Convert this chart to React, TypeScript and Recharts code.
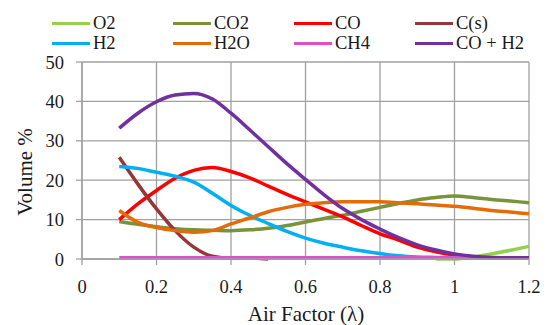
import React from 'react';
import { LineChart, Line, XAxis, YAxis, CartesianGrid, Label } from 'recharts';

const lambda = [0.1, 0.15, 0.2, 0.25, 0.3, 0.35, 0.4, 0.45, 0.5, 0.55, 0.6, 0.65, 0.7, 0.75, 0.8, 0.85, 0.9, 0.95, 1.0, 1.05, 1.1, 1.15, 1.2];
const o2 = [null, null, null, null, null, null, null, null, null, null, null, null, null, null, null, null, null, 0, 0, 0.5, 1.3, 2.2, 3.2];
const co2 = [9.5, 8.8, 8.2, 7.7, 7.4, 7.3, 7.2, 7.4, 7.8, 8.5, 9.4, 10.3, 11.1, 12.1, 13.1, 14.1, 15, 15.6, 16, 15.6, 15.1, 14.7, 14.3];
const co = [10, 14, 17.4, 20.5, 22.5, 23.2, 22.2, 20.6, 18.5, 16.4, 14.5, 12.6, 10.7, 8.5, 6.4, 4.8, 3, 1.8, 1, 0.5, 0.3, 0.2, 0.2];
const cs = [25.8, 19, 12.7, 7.2, 3, 0.7, 0.2, 0.3, 0, null, null, null, null, null, null, null, null, null, null, null, null, null, null];
const h2 = [23.5, 23, 22, 21, 19.5, 16.7, 13.6, 11.1, 9, 7, 5.3, 4, 3, 2.1, 1.4, 0.8, 0.5, 0.4, 0.3, 0.2, 0.2, 0.2, 0.2];
const h2o = [12.3, 9.3, 8, 7.2, 6.8, 7.2, 8.9, 10.4, 12, 13.1, 13.9, 14.3, 14.5, 14.5, 14.5, 14.3, 14, 13.7, 13.4, 12.9, 12.3, 11.9, 11.5];
const ch4 = [0.3, 0.3, 0.3, 0.3, 0.3, 0.3, 0.3, 0.3, 0.3, 0.3, 0.3, 0.3, 0.3, 0.3, 0.3, 0.3, 0.3, 0.3, 0.3, 0.3, 0.3, 0.3, 0.3];
const coh2 = [33.2, 37, 39.9, 41.6, 42, 40.6, 37, 32.8, 28.5, 24.2, 20.2, 16.3, 12.8, 10, 7.6, 5.4, 3.6, 2.3, 1.3, 0.7, 0.4, 0.3, 0.3];

const xTicks = [0, 0.2, 0.4, 0.6, 0.8, 1, 1.2];
const yTicks = [0, 10, 20, 30, 40, 50];

const series = [
  { key: 'O2', values: o2, color: '#92D050' },
  { key: 'CO2', values: co2, color: '#77933C' },
  { key: 'CO', values: co, color: '#FF0000' },
  { key: 'C(s)', values: cs, color: '#953735' },
  { key: 'H2', values: h2, color: '#00B0F0' },
  { key: 'H2O', values: h2o, color: '#E36C09' },
  { key: 'CH4', values: ch4, color: '#DF4FC6' },
  { key: 'CO + H2', values: coh2, color: '#7030A0' },
];

const data = lambda.map((x, i) => {
  const row: Record<string, number | null> = { x };
  series.forEach((s) => { row[s.key] = s.values[i]; });
  return row;
});

const FONT = "'Liberation Serif', 'DejaVu Serif', 'Noto Serif', serif";
const GRID = '#A0A0A0';
const TEXT = '#1a1a1a';

export default function App() {
  return (
    <div style={{ position: 'absolute', left: 0, top: 0, width: 548, height: 325, background: '#fff', fontFamily: FONT }}>
      <div style={{ position: 'absolute', left: 0, top: 0, width: 548, height: 60 }}>
        {series.map((s, i) => {
          const col = i % 4;
          const row = Math.floor(i / 4);
          const left = 52 + col * 121;
          const top = row === 0 ? 23 : 43;
          return (
            <div key={s.key} style={{ position: 'absolute', left, top: top - 11, height: 22, display: 'flex', alignItems: 'center', whiteSpace: 'nowrap' }}>
              <div style={{ width: 38, height: 3, background: s.color }} />
              <span style={{ marginLeft: 3, fontSize: 18.5, color: TEXT, lineHeight: '22px', fontFamily: FONT }}>{s.key}</span>
            </div>
          );
        })}
      </div>
      <LineChart width={548} height={325} data={data} margin={{ top: 62, right: 19, left: 0, bottom: 0 }} style={{ position: 'absolute', left: 0, top: 0 }}>
        <CartesianGrid stroke={GRID} strokeWidth={1.3} />
        <XAxis
          dataKey="x"
          type="number"
          domain={[0, 1.2]}
          ticks={xTicks}
          interval={0}
          height={66}
          tickSize={6}
          tickMargin={15}
          stroke={GRID}
          strokeWidth={1.3}
          tick={{ fill: TEXT, fontSize: 18.5, fontFamily: FONT }}
          tickFormatter={(v: number) => String(Math.round(v * 10) / 10)}
        >
          <Label
            content={() => (
              <text x={306} y={314} textAnchor="middle" dominantBaseline="central" fontSize={21} fontFamily={FONT} fill={TEXT}>
                Air Factor (λ)
              </text>
            )}
          />
        </XAxis>
        <YAxis
          type="number"
          domain={[0, 50]}
          ticks={yTicks}
          interval={0}
          width={82}
          tickSize={6}
          tickMargin={12}
          stroke={GRID}
          strokeWidth={1.3}
          tick={{ fill: TEXT, fontSize: 18.5, fontFamily: FONT }}
        >
          <Label
            content={() => (
              <text x={25} y={172} transform="rotate(-90 25 172)" textAnchor="middle" dominantBaseline="central" fontSize={21} fontFamily={FONT} fill={TEXT}>
                Volume %
              </text>
            )}
          />
        </YAxis>
        {series.map((s) => (
          <Line
            key={s.key}
            dataKey={s.key}
            type="monotone"
            stroke={s.color}
            strokeWidth={3.5}
            dot={false}
            activeDot={false}
            isAnimationActive={false}
            connectNulls={false}
          />
        ))}
      </LineChart>
    </div>
  );
}
